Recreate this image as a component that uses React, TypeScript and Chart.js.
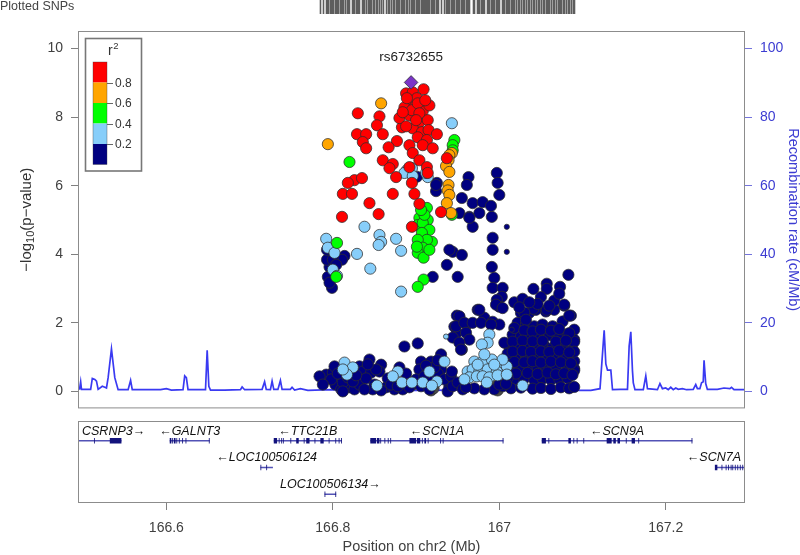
import React, { useEffect, useRef } from 'react';
import { Chart, registerables } from 'chart.js';

Chart.register(...registerables);

const FONT = '"Liberation Sans", Arial, Helvetica, sans-serif';

type P = [number, number];

// ---------------- axes ----------------
const X_MIN = 166.495;
const X_MAX = 167.294;
const xTicks = [166.6, 166.8, 167.0, 167.2];
const xTickLabels = ['166.6', '166.8', '167', '167.2'];
const Y_MIN = -0.466;
const Y_MAX = 10.48;
const yTicks = [0, 2, 4, 6, 8, 10];
const recTicks = [0, 20, 40, 60, 80, 100];

// ---------------- LD legend ----------------
const ldBreaks = [0.2, 0.4, 0.6, 0.8];
const ldColors = ['#000080', '#87CEFA', '#00FF00', '#FFA500', '#FF0000'];

// ---------------- SNPs: [position Mb, -log10 p] ----------------
const leadName = 'rs6732655';
const leadSnp: P[] = [[166.894, 9.01]];

const snpRed: P[] = [
  [166.909, 8.81], [166.830, 8.11], [166.856, 8.02], [166.853, 7.76], [166.829, 7.50], [166.840, 7.50],
  [166.836, 7.27], [166.840, 7.09], [166.860, 7.50], [166.877, 7.30], [166.867, 7.12], [166.883, 7.70],
  [166.888, 8.69], [166.896, 8.72], [166.892, 8.49], [166.901, 8.55], [166.886, 8.28], [166.898, 8.28],
  [166.908, 8.17], [166.916, 8.34], [166.880, 7.97], [166.892, 8.05], [166.904, 7.85], [166.914, 7.91],
  [166.896, 7.67], [166.907, 7.56], [166.915, 7.62], [166.925, 7.50], [166.902, 7.41], [166.913, 7.33],
  [166.908, 7.18], [166.920, 7.09], [166.892, 7.18], [166.896, 6.95], [166.860, 6.74], [166.872, 6.63],
  [166.904, 6.74], [166.892, 6.54], [166.913, 6.54], [166.914, 6.37], [166.876, 6.25], [166.937, 6.80],
  [166.826, 6.16], [166.835, 6.22], [166.818, 6.08], [166.812, 5.76], [166.823, 5.76], [166.844, 5.49],
  [166.811, 5.09], [166.855, 5.17], [166.872, 5.76], [166.868, 6.51], [166.895, 6.08], [166.898, 5.76],
  [166.904, 5.47], [166.895, 4.80], [166.930, 5.23], [166.889, 8.55], [166.895, 8.20], [166.902, 8.40],
  [166.884, 8.14], [166.911, 8.49], [166.904, 8.11], [166.900, 7.91], [166.888, 7.73],
];

const snpOrange: P[] = [
  [166.858, 8.40], [166.794, 7.21], [166.943, 6.95], [166.940, 6.89], [166.939, 6.74], [166.936, 6.57],
  [166.940, 6.40], [166.939, 6.02], [166.938, 5.86], [166.940, 5.73], [166.937, 5.49], [166.942, 5.20],
];

const snpGreen: P[] = [
  [166.820, 6.69], [166.946, 7.33], [166.944, 7.18], [166.944, 7.03], [166.943, 5.15], [166.913, 5.35],
  [166.914, 5.00], [166.904, 5.06], [166.902, 4.85], [166.908, 4.91], [166.916, 4.71], [166.907, 4.62],
  [166.919, 4.36], [166.913, 4.42], [166.902, 4.42], [166.908, 4.19], [166.902, 4.04], [166.909, 3.90],
  [166.901, 4.22], [166.909, 3.26], [166.902, 3.05], [166.805, 4.33], [166.804, 3.34], [166.910, 5.15],
  [166.916, 4.13], [166.906, 5.29],
];

const snpLightBlue: P[] = [
  [166.943, 7.82], [166.895, 6.51], [166.889, 6.45], [166.914, 6.25], [166.886, 6.37], [166.912, 6.37],
  [166.896, 6.28], [166.838, 4.80], [166.856, 4.56], [166.858, 4.36], [166.855, 4.27], [166.876, 4.45],
  [166.882, 4.10], [166.829, 4.01], [166.845, 3.58], [166.882, 2.91], [166.792, 4.45], [166.794, 4.19],
  [166.802, 4.04], [166.800, 3.55], [166.805, 3.37],
  [166.814, 0.84], [166.824, 0.70], [166.817, 0.49], [166.812, 0.64], [166.853, 0.17], [166.878, 0.58],
  [166.872, 0.44], [166.883, 0.26], [166.895, 0.26], [166.916, 0.58], [166.908, 0.26], [166.925, 0.29],
  [166.919, 0.17], [166.934, 0.87],
  [166.988, 1.66], [166.986, 1.42], [166.979, 1.37], [166.970, 0.87], [166.980, 0.87], [166.991, 0.93],
  [167.000, 0.73], [167.009, 0.73], [166.962, 0.58], [166.968, 0.64], [166.976, 0.58], [166.986, 0.64],
  [166.997, 0.58], [166.964, 0.41], [166.973, 0.44], [166.980, 0.44], [166.988, 0.41], [166.998, 0.47],
  [167.009, 0.49], [166.985, 0.26], [167.028, 0.17], [167.004, 0.93], [166.958, 0.35], [166.974, 0.78],
  [166.994, 0.78], [166.982, 1.08],
];
const snpLightBlueSmall: P[] = [[166.936, 1.60]];

const snpNavy: P[] = [
  [166.796, 3.63], [166.793, 3.84], [166.794, 3.34], [166.799, 3.02], [166.796, 3.17], [166.814, 3.95],
  [166.811, 3.84], [166.800, 3.84], [166.793, 4.13], [166.804, 3.69],
  [166.920, 3.34], [166.937, 3.69], [166.950, 3.34], [166.944, 4.07], [166.955, 3.98], [166.940, 4.13],
  [166.952, 5.20], [166.955, 5.64], [166.968, 5.49], [166.980, 5.52], [166.964, 5.09], [166.976, 5.20],
  [166.991, 5.09], [166.968, 4.80], [166.963, 6.25], [166.961, 6.02], [166.997, 6.37], [166.998, 6.08],
  [167.000, 5.73], [166.992, 4.48], [166.992, 4.13], [166.991, 3.63], [166.994, 3.31], [166.992, 3.02],
  [167.004, 3.02], [167.003, 2.76], [166.997, 2.67], [167.000, 2.47], [166.974, 2.38], [166.952, 2.18],
  [166.946, 1.89], [166.961, 1.95], [166.982, 2.15], [166.992, 2.03], [167.000, 1.95], [166.955, 1.22],
  [166.990, 5.41], [166.964, 5.06], [166.925, 6.08], [166.924, 5.84], [166.901, 6.26], [166.924, 6.02],
  [166.792, 0.49], [166.800, 0.55], [166.802, 0.73], [166.808, 0.29], [166.803, 0.20], [166.810, 0.06],
  [166.820, 0.12], [166.826, 0.06], [166.832, 0.20], [166.844, 0.93], [166.832, 0.73], [166.836, 0.58],
  [166.846, 0.55], [166.858, 0.78], [166.856, 0.58], [166.886, 1.31], [166.902, 1.40], [166.864, 0.12],
  [166.874, 0.06], [166.884, 0.06], [166.906, 0.87], [166.918, 0.87], [166.930, 1.08], [166.904, 0.64],
  [166.914, 0.58], [166.930, 0.64], [166.896, 0.20], [166.906, 0.15], [166.916, 0.06], [166.940, 0.15],
  [166.949, 2.21], [166.949, 1.72], [166.944, 1.57], [166.798, 0.35], [166.812, 0.26], [166.818, 0.41],
  [166.824, 0.29], [166.840, 0.38], [166.850, 0.20], [166.848, 0.06], [166.838, 0.06], [166.812, 0.00],
  [166.806, 0.52], [166.828, 0.47], [166.852, 0.64], [166.842, 0.79], [166.866, 0.38], [166.880, 0.70],
  [166.888, 0.52], [166.892, 0.12], [166.900, 0.35], [166.910, 0.44], [166.920, 0.29], [166.926, 0.52],
  [166.934, 0.35], [166.938, 0.00], [166.922, 0.70], [166.870, 0.20], [166.858, 0.03], [166.878, 0.15],
  [166.912, 0.75], [166.926, 0.91], [166.942, 0.44], [166.784, 0.44], [166.788, 0.20],
  [166.952, 2.19], [166.948, 1.90], [166.958, 2.00], [166.968, 2.00], [166.978, 2.00], [166.990, 1.95],
  [166.960, 1.71], [166.964, 1.51], [166.952, 1.42], [166.954, 1.22], [166.976, 2.38], [166.996, 2.53],
  [167.004, 2.43], [167.026, 2.29], [167.036, 2.29], [167.044, 2.38], [167.056, 2.33], [167.066, 2.38],
  [167.078, 2.50], [167.086, 2.21], [167.022, 2.00], [167.032, 1.95], [167.042, 1.90], [167.052, 1.95],
  [167.064, 1.90], [167.076, 2.04], [167.090, 1.80],
  [167.016, 1.65], [167.026, 1.60], [167.038, 1.66], [167.048, 1.58], [167.060, 1.64], [167.070, 1.61],
  [167.082, 1.67], [167.090, 1.51],
  [167.012, 1.31], [167.022, 1.28], [167.034, 1.33], [167.044, 1.30], [167.054, 1.34], [167.064, 1.27],
  [167.076, 1.32], [167.088, 1.22],
  [167.010, 1.02], [167.020, 1.05], [167.032, 0.99], [167.044, 1.03], [167.056, 1.00], [167.066, 1.06],
  [167.078, 1.01], [167.090, 0.88],
  [167.014, 0.70], [167.024, 0.68], [167.036, 0.73], [167.046, 0.69], [167.056, 0.72], [167.068, 0.67],
  [167.082, 0.71], [167.090, 0.66],
  [167.020, 0.35], [167.030, 0.38], [167.042, 0.33], [167.052, 0.37], [167.062, 0.34], [167.072, 0.36],
  [167.082, 0.39],
  [167.014, 0.09], [167.026, 0.11], [167.040, 0.08], [167.050, 0.10], [167.062, 0.07], [167.074, 0.12],
  [167.084, 0.09], [167.090, 0.13],
  [166.944, 0.15], [166.943, 0.58], [166.950, 0.26], [166.956, 0.06],
  [167.006, 1.42], [167.010, 1.10], [167.004, 0.15], [166.994, 0.06], [167.000, 0.20], [166.982, 0.06],
  [166.970, 0.09], [166.960, 0.12],
  [167.041, 2.99], [167.057, 3.14], [167.057, 2.99], [167.073, 3.05], [167.083, 3.40], [167.078, 2.53],
  [167.057, 2.38], [167.041, 2.41], [167.030, 2.30], [167.032, 2.09], [167.090, 1.45], [167.090, 1.16],
  [167.090, 0.61], [167.084, 2.21], [167.018, 2.60], [167.028, 2.70], [167.050, 2.75], [167.066, 2.65],
  [167.072, 2.85], [167.046, 2.55], [167.060, 2.50], [167.036, 2.60], [167.024, 2.45],
  [167.018, 1.85], [167.030, 1.78], [167.040, 1.75], [167.050, 1.80], [167.062, 1.77], [167.072, 1.82],
  [167.084, 1.70], [167.016, 1.45], [167.028, 1.48], [167.040, 1.46], [167.052, 1.47], [167.068, 1.45],
  [167.080, 1.48], [167.016, 1.16], [167.028, 1.18], [167.038, 1.15], [167.050, 1.17], [167.060, 1.15],
  [167.072, 1.19], [167.084, 1.14], [167.018, 0.86], [167.030, 0.85], [167.040, 0.88], [167.050, 0.84],
  [167.062, 0.87], [167.074, 0.85], [167.086, 0.82], [167.020, 0.52], [167.034, 0.54], [167.046, 0.51],
  [167.058, 0.55], [167.068, 0.50], [167.078, 0.53], [167.088, 0.48], [167.010, 0.40], [167.008, 0.22],
];
const snpNavySmall: P[] = [[167.009, 4.80], [167.009, 4.07], [167.015, 1.80]];
const snpGray: P[] = [[166.996, 0.09], [166.994, 0.15], [166.998, 0.03], [166.918, 0.03], [166.921, 0.09]];

// ---------------- recombination rate: [position Mb, cM/Mb] ----------------
const recombRate: P[] = [
  [166.4956, 0.5], [166.497, 2.8], [166.498, 0.6], [166.509, 0.6], [166.511, 3.8], [166.514, 3.5],
  [166.516, 3.0], [166.518, 0.6], [166.523, 1.5], [166.526, 1.2], [166.528, 1.0], [166.530, 4.0],
  [166.534, 12.4], [166.538, 4.0], [166.542, 0.5], [166.554, 0.5], [166.557, 3.2], [166.559, 0.5],
  [166.593, 0.5], [166.600, 0.8], [166.606, 0.4], [166.620, 0.5], [166.622, 4.5], [166.624, 4.0],
  [166.626, 0.5], [166.647, 0.5], [166.649, 12.0], [166.651, 1.5], [166.653, 0.4], [166.670, 0.4],
  [166.689, 0.5], [166.691, 1.3], [166.694, 0.5], [166.715, 0.6], [166.718, 2.8], [166.720, 0.6],
  [166.725, 0.5], [166.727, 3.0], [166.729, 0.6], [166.734, 0.6], [166.737, 3.2], [166.739, 0.6],
  [166.749, 0.6], [166.751, 1.2], [166.754, 0.4], [166.761, 0.8], [166.770, 0.3], [166.797, 0.5],
  [166.830, 0.4], [166.870, 0.3], [166.900, 0.3], [166.950, 0.4], [167.000, 0.3], [167.050, 0.5],
  [167.090, 0.3], [167.110, 0.3], [167.121, 0.8], [167.126, 17.8], [167.128, 8.0], [167.130, 6.2],
  [167.134, 6.2], [167.136, 0.5], [167.145, 0.6], [167.154, 0.6], [167.156, 13.2], [167.158, 17.4],
  [167.160, 6.0], [167.161, 2.5], [167.163, 0.5], [167.173, 0.5], [167.176, 4.5], [167.178, 0.8],
  [167.190, 0.5], [167.193, 2.3], [167.196, 0.8], [167.200, 1.0], [167.203, 0.5], [167.206, 1.2],
  [167.209, 0.5], [167.212, 1.0], [167.215, 0.6], [167.220, 0.8], [167.225, 0.5], [167.233, 0.6],
  [167.236, 2.0], [167.238, 0.8], [167.241, 0.8], [167.243, 2.5], [167.245, 2.8], [167.246, 9.1],
  [167.248, 2.3], [167.250, 0.6], [167.262, 0.6], [167.270, 1.0], [167.277, 0.8], [167.279, 1.2],
  [167.282, 0.5], [167.294, 0.5],
];

// ---------------- genes ----------------
const geneNames = ['CSRNP3', 'GALNT3', 'TTC21B', 'LOC100506124', 'LOC100506134', 'SCN1A', 'SCN9A', 'SCN7A'];
const geneStart = [166.326, 166.604, 166.729, 166.713, 166.790, 166.845, 167.051, 167.260];
const geneEnd = [166.546, 166.652, 166.811, 166.728, 166.804, 167.005, 167.232, 167.351];
const geneStrand = ['+', '-', '-', '-', '+', '-', '-', '-'];
const geneRow = [1, 1, 1, 2, 3, 1, 1, 2];
const geneExons: P[][] = [
  [[166.513, 166.514], [166.532, 166.546]],
  [[166.604, 166.606], [166.607, 166.608], [166.609, 166.611], [166.612, 166.613], [166.615, 166.616],
   [166.619, 166.620], [166.623, 166.624], [166.651, 166.652]],
  [[166.729, 166.733], [166.735, 166.736], [166.738, 166.739], [166.740, 166.741], [166.745, 166.746],
   [166.749, 166.750], [166.756, 166.759], [166.765, 166.766], [166.768, 166.772], [166.775, 166.776],
   [166.778, 166.779], [166.785, 166.789], [166.795, 166.796], [166.799, 166.800], [166.803, 166.804],
   [166.807, 166.808], [166.810, 166.811]],
  [[166.713, 166.714], [166.720, 166.721], [166.727, 166.728]],
  [[166.790, 166.791], [166.803, 166.804]],
  [[166.845, 166.852], [166.853, 166.856], [166.857, 166.858], [166.862, 166.863], [166.866, 166.867],
   [166.869, 166.870], [166.892, 166.900], [166.901, 166.905], [166.907, 166.908], [166.910, 166.912],
   [166.914, 166.915], [166.929, 166.930], [166.932, 166.933], [167.004, 167.005]],
  [[167.051, 167.056], [167.059, 167.060], [167.083, 167.086], [167.089, 167.090], [167.093, 167.094],
   [167.097, 167.098], [167.101, 167.102], [167.109, 167.110], [167.129, 167.135], [167.137, 167.140],
   [167.142, 167.145], [167.150, 167.151], [167.152, 167.153], [167.159, 167.163], [167.167, 167.168],
   [167.231, 167.232]],
  [[167.259, 167.262], [167.264, 167.265], [167.267, 167.268], [167.270, 167.271], [167.272, 167.273],
   [167.275, 167.276], [167.278, 167.279], [167.280, 167.281], [167.283, 167.284], [167.286, 167.287],
   [167.289, 167.290], [167.292, 167.293]],
];

const toXY = (a: P[]) => a.map(([x, y]) => ({ x, y }));

function fixedTicks(values: number[]) {
  return (s: any) => {
    s.ticks = values.map((v) => ({ value: v }));
  };
}

export default function App() {
  const topRef = useRef<HTMLCanvasElement>(null);
  const botRef = useRef<HTMLCanvasElement>(null);

  useEffect(() => {
    Chart.defaults.font.family = FONT;
    const allSnps: P[] = [
      ...leadSnp, ...snpRed, ...snpOrange, ...snpGreen, ...snpLightBlue, ...snpLightBlueSmall,
      ...snpNavy, ...snpNavySmall, ...snpGray,
    ];

    const pointDs = (data: P[], color: string, r = 5.6) => ({
      data: toXY(data),
      backgroundColor: color,
      borderColor: 'rgba(45,45,45,0.95)',
      borderWidth: 0.8,
      pointRadius: r,
      pointHoverRadius: r,
      yAxisID: 'y',
    });

    const mainDecor = {
      id: 'mainDecor',
      afterDraw(chart: any) {
        const { ctx, chartArea: a, scales } = chart;
        const xs = scales.x;
        const ys = scales.y;
        ctx.save();
        // panel box
        ctx.strokeStyle = '#8c8c8c';
        ctx.lineWidth = 1;
        ctx.strokeRect(a.left - 0.5, a.top - 0.5, a.right - a.left + 1, a.bottom - a.top + 1);

        // rug of plotted SNPs
        ctx.strokeStyle = 'rgba(75,75,75,0.9)';
        ctx.lineWidth = 1.6;
        ctx.beginPath();
        for (const [p] of allSnps) {
          const px = Math.round(xs.getPixelForValue(p)) + 0.5;
          ctx.moveTo(px, 0);
          ctx.lineTo(px, 14);
        }
        ctx.stroke();
        ctx.fillStyle = '#444';
        ctx.font = `12.5px ${FONT}`;
        ctx.textAlign = 'left';
        ctx.textBaseline = 'middle';
        ctx.fillText('Plotted SNPs', 0, 7);

        // lead SNP label
        const lx = xs.getPixelForValue(leadSnp[0][0]);
        const ly = ys.getPixelForValue(leadSnp[0][1]);
        ctx.fillStyle = '#222';
        ctx.font = `13.5px ${FONT}`;
        ctx.textAlign = 'center';
        ctx.fillText(leadName, lx, ly - 25);

        // LD legend
        const bx = a.left + 6.5;
        const by = a.top + 6.5;
        ctx.fillStyle = '#fff';
        ctx.fillRect(bx, by, 56, 132.5);
        ctx.strokeStyle = '#777';
        ctx.strokeRect(bx, by, 56, 132.5);
        const cx = a.left + 14;
        const cy = a.top + 30;
        const seg = 20.5;
        for (let k = 0; k < ldColors.length; k++) {
          ctx.fillStyle = ldColors[ldColors.length - 1 - k];
          ctx.fillRect(cx, cy + k * seg, 14, seg);
        }
        ctx.strokeStyle = 'rgba(60,60,60,0.6)';
        ctx.lineWidth = 0.6;
        ctx.strokeRect(cx, cy, 14, seg * ldColors.length);
        ctx.strokeStyle = '#666';
        ctx.lineWidth = 1;
        ctx.font = `12px ${FONT}`;
        ctx.fillStyle = '#333';
        ctx.textAlign = 'left';
        ctx.textBaseline = 'middle';
        const desc = [...ldBreaks].reverse();
        desc.forEach((b, i) => {
          const ty = Math.round(cy + (i + 1) * seg) + 0.5;
          ctx.beginPath();
          ctx.moveTo(cx + 14, ty);
          ctx.lineTo(cx + 20, ty);
          ctx.stroke();
          ctx.fillText(b.toFixed(1), cx + 22, ty);
        });
        ctx.textBaseline = 'alphabetic';
        ctx.font = `14px ${FONT}`;
        ctx.fillText('r', a.left + 29, a.top + 23);
        const rw = ctx.measureText('r').width;
        ctx.font = `9.5px ${FONT}`;
        ctx.fillText('2', a.left + 29 + rw + 0.5, a.top + 17);

        // left axis title with subscript
        ctx.translate(27, (a.top + a.bottom) / 2);
        ctx.rotate(-Math.PI / 2);
        ctx.fillStyle = '#333';
        ctx.textBaseline = 'middle';
        ctx.textAlign = 'left';
        const mainFont = `15px ${FONT}`;
        const subFont = `11px ${FONT}`;
        const parts: [string, string, number][] = [
          ['\u2212log', mainFont, 0],
          ['10', subFont, 4],
          ['(p\u2212value)', mainFont, 0],
        ];
        let total = 0;
        const widths = parts.map(([t, f]) => {
          ctx.font = f;
          const w = ctx.measureText(t).width;
          total += w;
          return w;
        });
        let tx = -total / 2;
        parts.forEach(([t, f, dy], i) => {
          ctx.font = f;
          ctx.fillText(t, tx, dy);
          tx += widths[i];
        });
        ctx.restore();
      },
    };

    const main = new Chart(topRef.current as HTMLCanvasElement, {
      type: 'scatter',
      data: {
        datasets: [
          {
            ...pointDs(leadSnp, '#7a35c8', 6.8),
            pointStyle: 'rectRot',
          },
          pointDs(snpRed, ldColors[4]),
          pointDs(snpOrange, ldColors[3]),
          pointDs(snpGreen, ldColors[2]),
          pointDs(snpLightBlueSmall, ldColors[1], 2.6),
          pointDs(snpLightBlue, ldColors[1]),
          pointDs(snpNavySmall, ldColors[0], 2.6),
          pointDs(snpNavy, ldColors[0]),
          pointDs(snpGray, '#4a4a4a'),
          {
            data: toXY(recombRate),
            yAxisID: 'y2',
            showLine: true,
            pointRadius: 0,
            pointHoverRadius: 0,
            borderColor: '#3a3af2',
            borderWidth: 1.7,
            backgroundColor: '#3a3af2',
            tension: 0,
          },
        ] as any,
      },
      options: {
        animation: false,
        responsive: false,
        maintainAspectRatio: false,
        events: [],
        layout: { padding: { left: 0, right: 0, top: 32, bottom: 7 } },
        plugins: { legend: { display: false }, tooltip: { enabled: false } },
        scales: {
          x: { type: 'linear', min: X_MIN, max: X_MAX, display: false },
          y: {
            type: 'linear',
            position: 'left',
            min: Y_MIN,
            max: Y_MAX,
            afterBuildTicks: fixedTicks(yTicks),
            afterFit: (s: any) => {
              s.width = 79;
              s.paddingTop = 0;
              s.paddingBottom = 0;
            },
            grid: { drawOnChartArea: false, drawTicks: true, tickLength: 8, color: '#808080' },
            border: { display: false },
            ticks: { color: '#404040', font: { size: 14 }, padding: 8 },
          },
          y2: {
            type: 'linear',
            position: 'right',
            min: Y_MIN * 10,
            max: Y_MAX * 10,
            afterBuildTicks: fixedTicks(recTicks),
            afterFit: (s: any) => {
              s.width = 56;
              s.paddingTop = 0;
              s.paddingBottom = 0;
            },
            grid: { drawOnChartArea: false, drawTicks: true, tickLength: 8, color: '#7474dc' },
            border: { display: false },
            ticks: { color: '#3c3cd2', font: { size: 14 }, padding: 8 },
            title: {
              display: true,
              text: 'Recombination rate (cM/Mb)',
              color: '#3c3cd2',
              font: { size: 14.5, lineHeight: 1 },
              padding: 0,
            },
          },
        },
      } as any,
      plugins: [mainDecor],
    });

    // ---------- gene track ----------
    const bodyData: any[] = [];
    const exonData: any[] = [];
    geneNames.forEach((_, i) => {
      bodyData.push({ x: geneStart[i], y: geneRow[i] }, { x: geneEnd[i], y: geneRow[i] }, { x: geneEnd[i], y: null });
      geneExons[i].forEach(([s, e]) => {
        exonData.push({ x: s, y: geneRow[i] }, { x: e, y: geneRow[i] }, { x: e, y: null });
      });
    });

    const geneDecor = {
      id: 'geneDecor',
      afterDraw(chart: any) {
        const { ctx, chartArea: a, scales } = chart;
        const xs = scales.x;
        const ys = scales.y;
        ctx.save();
        ctx.strokeStyle = '#8c8c8c';
        ctx.lineWidth = 1;
        ctx.strokeRect(a.left - 0.5, a.top - 0.5, a.right - a.left + 1, a.bottom - a.top + 1);
        ctx.font = `italic 12.5px ${FONT}`;
        ctx.fillStyle = '#111';
        ctx.textAlign = 'center';
        ctx.textBaseline = 'middle';
        geneNames.forEach((name, i) => {
          const label = geneStrand[i] === '+' ? `${name}\u2192` : `\u2190${name}`;
          const w = ctx.measureText(label).width;
          let cx = (xs.getPixelForValue(geneStart[i]) + xs.getPixelForValue(geneEnd[i])) / 2;
          cx = Math.max(a.left + w / 2 + 3, Math.min(a.right - w / 2 - 3, cx));
          const cy = ys.getPixelForValue(geneRow[i]) - 9.5;
          ctx.fillText(label, cx, cy);
        });
        ctx.restore();
      },
    };

    const genes = new Chart(botRef.current as HTMLCanvasElement, {
      type: 'scatter',
      data: {
        datasets: [
          {
            data: exonData,
            showLine: true,
            spanGaps: false,
            pointRadius: 0,
            borderColor: '#12127c',
            borderWidth: 5.5,
            borderCapStyle: 'butt',
          },
          {
            data: bodyData,
            showLine: true,
            spanGaps: false,
            pointRadius: 0,
            borderColor: '#5252b6',
            borderWidth: 1.5,
            borderCapStyle: 'butt',
          },
        ] as any,
      },
      options: {
        animation: false,
        responsive: false,
        maintainAspectRatio: false,
        events: [],
        layout: { padding: { left: 79, right: 56, top: 7, bottom: 0 } },
        plugins: { legend: { display: false }, tooltip: { enabled: false } },
        scales: {
          x: {
            type: 'linear',
            position: 'bottom',
            min: X_MIN,
            max: X_MAX,
            afterBuildTicks: fixedTicks(xTicks),
            afterFit: (s: any) => {
              s.height = 53;
              s.paddingLeft = 0;
              s.paddingRight = 0;
            },
            grid: { drawOnChartArea: false, drawTicks: true, tickLength: 8, color: '#808080' },
            border: { display: false },
            ticks: {
              color: '#404040',
              font: { size: 14 },
              padding: 10,
              maxRotation: 0,
              callback: (v: number) => {
                const i = xTicks.findIndex((t) => Math.abs(t - v) < 1e-6);
                return i >= 0 ? xTickLabels[i] : '';
              },
            },
            title: {
              display: true,
              text: 'Position on chr2 (Mb)',
              color: '#404040',
              font: { size: 14.5, lineHeight: 1.1 },
              padding: { top: 0, bottom: 0 },
            },
          },
          y: { type: 'linear', min: 0.302, max: 3.287, reverse: true, display: false },
        },
      } as any,
      plugins: [geneDecor],
    });

    return () => {
      main.destroy();
      genes.destroy();
    };
  }, []);

  return (
    <div style={{ position: 'fixed', left: 0, top: 0, width: 800, height: 555, background: '#fff' }}>
      <canvas ref={topRef} width={800} height={415} style={{ position: 'absolute', left: 0, top: 0, width: 800, height: 415 }} />
      <canvas ref={botRef} width={800} height={140} style={{ position: 'absolute', left: 0, top: 415, width: 800, height: 140 }} />
    </div>
  );
}
